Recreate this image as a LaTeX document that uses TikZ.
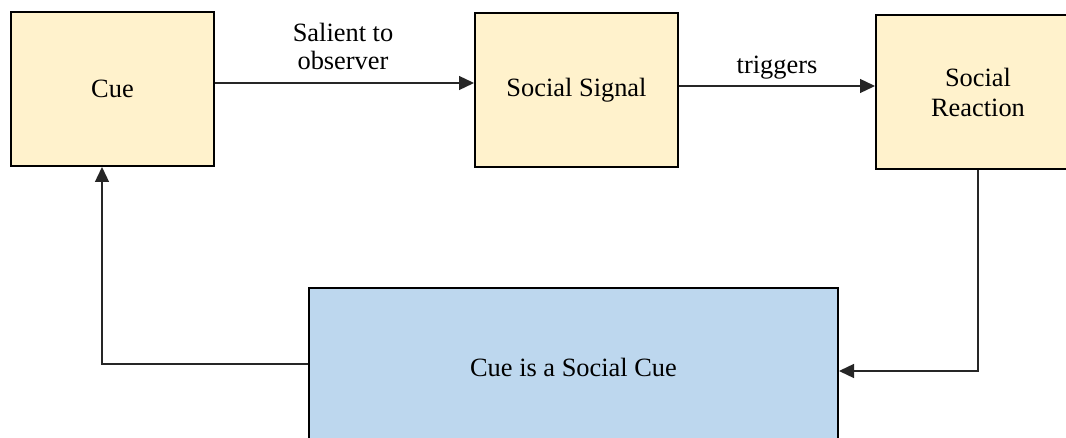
\documentclass[tikz,border=0pt]{standalone}
\usepackage{fontspec}
\setmainfont{Liberation Serif}
\usetikzlibrary{arrows.meta}
\definecolor{boxyellow}{HTML}{FFF2CC}
\definecolor{boxblue}{HTML}{BDD7EE}
\begin{document}
\begin{tikzpicture}[x=0.5pt,y=-0.5pt,
  box/.style={draw=black,line width=1pt,rectangle,inner sep=0pt,align=center,
    font=\fontsize{13.2}{15}\selectfont},
  ybox/.style={box,fill=boxyellow},
  bbox/.style={box,fill=boxblue},
  arr/.style={draw=black!85,line width=0.65pt,-{Triangle[length=7.5pt,width=7pt]}},
  lab/.style={inner sep=0pt,align=center,font=\fontsize{13.2}{14}\selectfont}]
\useasboundingbox (0,0) rectangle (1066,438);
\clip (0,0) rectangle (1066,438);
\fill[white] (0,0) rectangle (1066,438);
\node[ybox,minimum width=101.5pt,minimum height=77pt] (cue) at (112.5,89) {Cue};
\node[ybox,minimum width=101.5pt,minimum height=77pt] (signal) at (576.5,90) {Social Signal};
\node[ybox,minimum width=102pt,minimum height=77pt] (reaction) at (978,92) {Social\\Reaction};
\node[bbox,minimum width=264.5pt,minimum height=79pt] (scue) at (573.5,367) {Cue is a Social Cue};
\node[lab] (l1) at (343,46) {Salient to\\observer};
\node[lab] (l2) at (777,68) {triggers};
\draw[arr] (cue.east |- 0,83) -- (signal.west |- 0,83);
\draw[arr] (signal.east |- 0,86) -- (reaction.west |- 0,86);
\draw[arr] (reaction.south) |- (scue.east |- 0,371);
\draw[arr] (scue.west |- 0,364) -| (cue.south -| 102,0);
\end{tikzpicture}
\end{document}
